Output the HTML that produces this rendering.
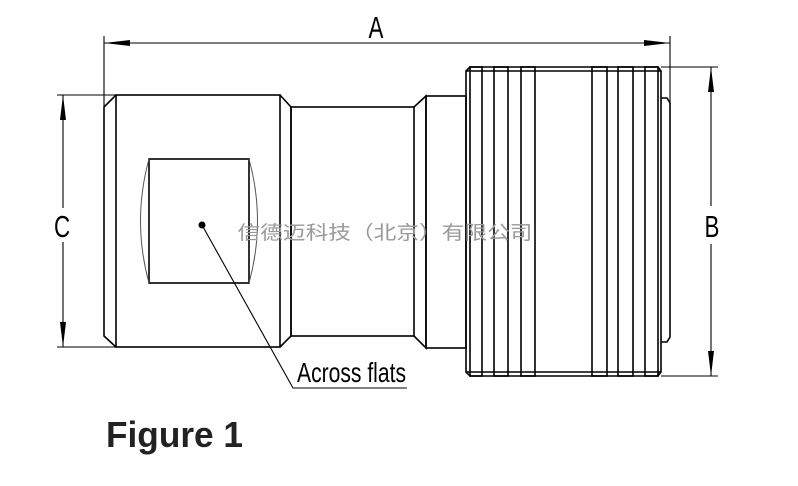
<!DOCTYPE html>
<html><head><meta charset="utf-8"><style>
html,body{margin:0;padding:0;background:#fff;}
svg{display:block;}
</style></head><body>
<svg width="798" height="486" viewBox="0 0 798 486" xmlns="http://www.w3.org/2000/svg">
<g fill="none" stroke="#000" stroke-width="1.6">
<polyline points="116,95 104,107 104,336 116,347"/>
<rect x="116" y="95" width="164" height="252"/>
<polyline points="280,95 291,107 291,336 280,347"/>
<rect x="291" y="107" width="123" height="229"/>
<polyline points="414,107 426,96 426,348 414,336"/>
<rect x="426" y="96" width="40" height="252"/>
<path d="M470,67 L466,71 L466,372 L470,376 L658,376 L661,372 L661,71 L658,67 Z"/>
<line x1="466" y1="71" x2="661" y2="71"/>
<line x1="466" y1="372" x2="661" y2="372"/>
<rect x="470" y="67" width="12" height="309"/>
<rect x="494" y="67" width="14" height="309"/>
<rect x="521" y="67" width="14" height="309"/>
<rect x="592" y="67" width="15" height="309"/>
<rect x="618" y="67" width="15" height="309"/>
<rect x="645" y="67" width="13" height="309"/>
<polyline points="661,98 667,98 670,103 670,337 667,342 661,342"/>
<rect x="149" y="159" width="100" height="124"/>
<path d="M149,159 Q132,221 149,283" stroke-width="1" stroke="#555"/>
<path d="M249,159 Q266,221 249,283" stroke-width="1" stroke="#555"/>
</g>
<g stroke="#000" stroke-width="1.1" fill="none">
<line x1="104" y1="36" x2="104" y2="107"/>
<line x1="670" y1="36" x2="670" y2="103"/>
<line x1="104" y1="43" x2="670" y2="43"/>
<line x1="57" y1="95" x2="116" y2="95"/>
<line x1="57" y1="347" x2="116" y2="347"/>
<line x1="63" y1="95" x2="63" y2="208"/>
<line x1="63" y1="242" x2="63" y2="347"/>
<line x1="661" y1="67" x2="718" y2="67"/>
<line x1="661" y1="376" x2="718" y2="376"/>
<line x1="711" y1="67" x2="711" y2="206"/>
<line x1="711" y1="244" x2="711" y2="376"/>
<polyline points="202,225 293,388 407,388"/>
</g>
<g fill="#000">
<polygon points="104,43 130,40 130,46"/>
<polygon points="670,43 644,40 644,46"/>
<polygon points="63,95 60,120 66,120"/>
<polygon points="63,347 60,322 66,322"/>
<polygon points="711,67 708,92 714,92"/>
<polygon points="711,376 708,351 714,351"/>
<circle cx="202" cy="225" r="3.5"/>
</g>
<g font-family="Liberation Sans, sans-serif" fill="#000">
<text x="376" y="38" font-size="31" text-anchor="middle" transform="translate(376 0) scale(0.72 1) translate(-376 0)">A</text>
<text x="62" y="237" font-size="31" text-anchor="middle" transform="translate(62 0) scale(0.72 1) translate(-62 0)">C</text>
<text x="712" y="237" font-size="31" text-anchor="middle" transform="translate(712 0) scale(0.72 1) translate(-712 0)">B</text>
<text x="297" y="382" font-size="28" textLength="109" lengthAdjust="spacingAndGlyphs">Across flats</text>
<text x="106" y="447" font-size="36" font-weight="bold" fill="#222" textLength="137" lengthAdjust="spacingAndGlyphs">Figure 1</text>
</g>
<text x="385" y="239" font-size="19" fill="#999" text-anchor="middle" font-family="Liberation Sans, Noto Sans CJK SC, sans-serif" textLength="295" lengthAdjust="spacingAndGlyphs">信德迈科技（北京）有限公司</text>
</svg>
</body></html>
